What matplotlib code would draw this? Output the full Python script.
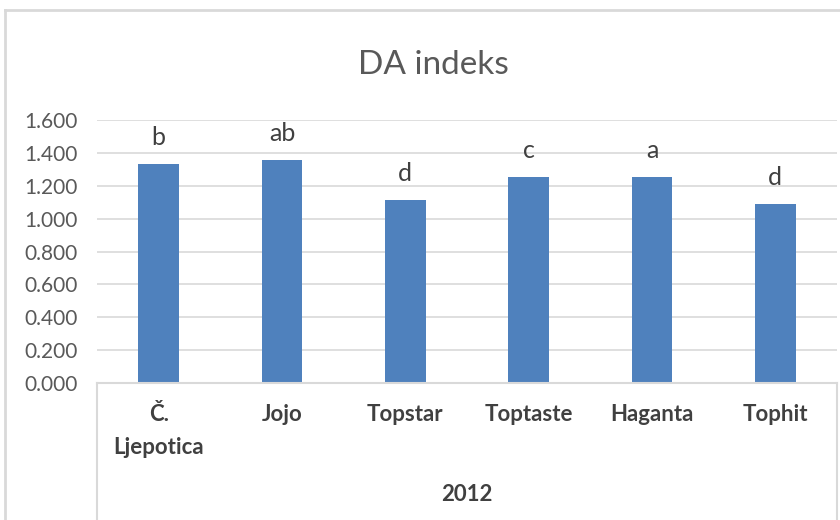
import matplotlib
matplotlib.use('Agg')
import matplotlib.pyplot as plt
from matplotlib.lines import Line2D
import numpy as np

plt.rcParams['font.family'] = ['Lato', 'DejaVu Sans']

cultivars = ['Č.\nLjepotica', 'Jojo', 'Topstar', 'Toptaste', 'Haganta', 'Tophit']
da_index = [1.332, 1.356, 1.113, 1.253, 1.253, 1.089]
letters = ['b', 'ab', 'd', 'c', 'a', 'd']
yticks = [0.0, 0.2, 0.4, 0.6, 0.8, 1.0, 1.2, 1.4, 1.6]
year = '2012'

W, H = 840, 520
fig = plt.figure(figsize=(W / 100, H / 100), dpi=100)
ax = fig.add_axes([97 / W, 1 - 383 / H, (837 - 97) / W, (383 - 120) / H])

x = np.arange(len(cultivars))
bars = ax.bar(x, da_index, width=0.33, color='#4f81bd', zorder=3)

ax.set_xlim(-0.5, len(cultivars) - 0.5)
ax.set_ylim(0, 1.6)
ax.set_yticks(yticks)
ax.set_yticklabels([f'{v:.3f}' for v in yticks], fontsize=15, color='#595959')
ax.tick_params(axis='y', length=0, pad=14)
ax.set_xticks([])
ax.grid(True, axis='y', color='#d9d9d9', linewidth=1.2, zorder=0)
for s in ax.spines.values():
    s.set_visible(False)

# significance letters
for xi, v, l in zip(x, da_index, letters):
    ax.annotate(l, (xi, v), xytext=(0, 11), textcoords='offset points',
                ha='center', va='bottom', fontsize=18, color='#404040',
                annotation_clip=False)

# category labels (multi-level axis)
trans = ax.get_xaxis_transform()
for xi, name in zip(x, cultivars):
    ax.text(xi, -0.08, name, transform=trans, ha='center', va='top',
            fontsize=16, fontweight='bold', color='#404040', linespacing=1.7)
ax.text((len(cultivars) - 1) / 2, -0.385, year, transform=trans, ha='center',
        va='top', fontsize=16, fontweight='bold', color='#404040')

# category box lines
lc = '#d9d9d9'
ax.plot([-0.5, len(cultivars) - 0.5], [0, 0], transform=trans, color=lc,
        lw=1.5, clip_on=False, zorder=4)
for xe in [-0.5, len(cultivars) - 0.5]:
    ax.plot([xe, xe], [0, -0.55], transform=trans, color=lc, lw=1.5, clip_on=False)

# title
fig.text(433 / W, 1 - 65 / H, 'DA indeks', ha='center', va='center',
         fontsize=24, color='#595959')

# chart frame
fig.add_artist(Line2D([5 / W, 5 / W], [0, 1 - 10 / H], color=lc, lw=2))
fig.add_artist(Line2D([5 / W, 1], [1 - 10 / H, 1 - 10 / H], color=lc, lw=2))

fig.savefig('out.png', dpi=100)
